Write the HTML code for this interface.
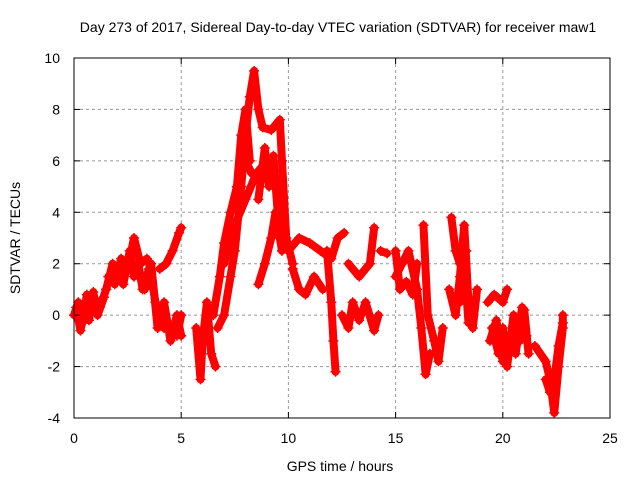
<!DOCTYPE html>
<html><head><meta charset="utf-8"><style>
body{margin:0;background:#fff;width:640px;height:480px;overflow:hidden}
text{font-family:"Liberation Sans",sans-serif;font-size:14px;fill:#000}
</style></head><body>
<svg id="chart" width="640" height="480" xmlns="http://www.w3.org/2000/svg">
<text x="338" y="32" text-anchor="middle">Day 273 of 2017, Sidereal Day-to-day VTEC variation (SDTVAR) for receiver maw1</text>
<g id="grid"></g>
<g id="series"></g>
<rect x="74" y="58" width="536" height="360" fill="none" stroke="#000" stroke-width="1"/>
<g id="ticks"></g>
<text x="340" y="471" text-anchor="middle">GPS time / hours</text>
<text x="20" y="238" text-anchor="middle" transform="rotate(-90 20 238)">SDTVAR / TECUs</text>
</svg>
<script>
const xTicks=[0,5,10,15,20,25];
const yTicks=[-4,-2,0,2,4,6,8,10];
const arcTimes=[
[0,0.2,0.4,0.6,0.8,1.0,1.2,1.5],
[0.1,0.3,0.5,0.7,0.9,1.1,1.4],
[1.5,1.8,2.0,2.3,2.6,2.8,3.0,3.2,3.5],
[1.6,1.9,2.2,2.5,2.8,3.1,3.4],
[3.5,3.8,4.0,4.2,4.5,4.8,5.0],
[3.3,3.6,3.9,4.2,4.5,4.8,5.0],
[4.0,4.3,4.6,4.9,5.0],
[5.7,5.9,6.0,6.2,6.4,6.6],
[6.5,6.8,7.0,7.3,7.6,8.0,8.3],
[6.7,7.0,7.3,7.5,7.8,8.0,8.2,8.4,8.6,8.8,9.2,9.6,9.7,9.9,10.2],
[7.6,7.8,8.0,8.2],
[7.0,7.5,8.0,8.5,9.0,9.3,9.6,9.8,10.0],
[8.6,8.9,9.1,9.3,9.5],
[8.6,8.9,9.2,9.4,9.7],
[10.0,10.5,11.0,11.5,12.0,12.3,12.6],
[10.2,10.5,10.8,11.2,11.6],
[11.8,12.0,12.1,12.2],
[12.5,12.8,13.0,13.3,13.6,14.0,14.2],
[12.8,13.3,13.8,14.0],
[14.3,14.6],
[15.0,15.3,15.6,16.0,16.2,16.4,16.6],
[15.0,15.2,15.5,15.8,16.0],
[16.3,16.5,16.8,17.0,17.2],
[17.5,17.8,18.0,18.2,18.4,18.6,18.8],
[17.6,17.8,18.0,18.3],
[18.0,18.2,18.4],
[19.5,19.8,20.0,20.2,20.5,20.8,21.0,21.2],
[19.4,19.7,20.0,20.3,20.6,20.9,21.1],
[19.3,19.6,20.0,20.2],
[21.5,22.0,22.2,22.4,22.6,22.8,22.8],
[22.0,22.2,22.4,22.6,22.8]
];
const arcValues=[
[0,0.5,-0.3,0.8,0.2,0.6,0.3,1.0],
[0.3,-0.6,0.2,-0.2,0.9,0.0,0.7],
[1.0,2.0,1.5,1.2,2.5,1.5,2.0,1.0,1.8],
[1.5,1.2,2.2,1.8,3.0,2.0,2.2],
[2.0,0.5,0,-0.5,-0.5,-0.8,0],
[1.0,2.0,-0.5,0.5,-1.0,0,-0.8],
[1.8,2.0,2.5,3.2,3.4],
[-0.5,-2.5,-1.0,0.5,-1.5,-2.0],
[0,1.5,2.8,4.0,5.0,6.0,5.5],
[-0.5,0,1.5,2.5,5.0,7.0,8.5,9.5,8.0,7.3,7.2,7.6,6.0,3.0,2.0],
[5.0,7.0,8.0,6.0],
[2.0,3.5,4.5,5.5,6.0,5.5,4.5,3.0,2.5],
[4.5,6.5,5.0,6.2,4.0],
[1.2,2.0,3.0,4.0,2.5],
[2.5,3.0,2.8,2.5,2.2,3.0,3.2],
[1.8,1.0,0.8,1.5,1.0],
[2.5,0.5,-1.0,-2.2],
[0,-0.5,0.5,-0.2,0.5,-0.6,0],
[2.0,1.5,2.0,3.4],
[2.5,2.4],
[1.5,2.0,2.5,1.0,-0.5,-2.3,-1.5],
[2.5,1.0,1.3,0.8,2.0],
[3.5,0,-1.0,-1.8,-0.5],
[1.0,0,1.5,3.5,0.5,-0.5,1.0],
[3.8,2.5,2.0,2.5],
[0.5,2.0,-0.3],
[-0.5,-1.5,-0.5,-2.0,0,-1.0,0.2,-1.5],
[-1.0,-0.2,-1.8,-0.8,-1.5,0.3,-0.8],
[0.5,0.8,0.5,1.0],
[-1.2,-1.8,-2.5,-3.8,-2.0,-0.5,0],
[-2.5,-3.0,-2.5,-1.2,-0.3]
];
const X0=74,X1=610,Y0=418,Y1=58;
const xs=t=>X0+(t-0)/(25-0)*(X1-X0);
const ys=v=>Y0-(v-(-4))/(10-(-4))*(Y0-Y1);
const NS="http://www.w3.org/2000/svg";
const grid=document.getElementById('grid'),ticks=document.getElementById('ticks'),ser=document.getElementById('series');
function mk(tag,attrs,parent){const e=document.createElementNS(NS,tag);for(const k in attrs)e.setAttribute(k,attrs[k]);parent.appendChild(e);return e;}
xTicks.forEach(t=>{const x=xs(t);
 if(t>0&&t<25){const g=mk('line',{x1:x,x2:x,y1:Y1,y2:Y0,stroke:'#999','stroke-dasharray':'3,3'},grid);
 
 }
 const a=mk('line',{x1:x,x2:x,y1:Y0,y2:Y0-6,stroke:'#000'},ticks);
 
 
 const b=mk('line',{x1:x,x2:x,y1:Y1,y2:Y1+6,stroke:'#000'},ticks);
 
 
 const l=mk('text',{x:x,y:443,'text-anchor':'middle'},ticks);l.textContent=t;
 
 
});
yTicks.forEach(v=>{const y=ys(v);
 if(v>-4&&v<10){const g=mk('line',{x1:X0,x2:X1,y1:y,y2:y,stroke:'#999','stroke-dasharray':'3,3'},grid);
 
 }
 const a=mk('line',{x1:X0,x2:X0+6,y1:y,y2:y,stroke:'#000'},ticks);
 
 
 const b=mk('line',{x1:X1,x2:X1-6,y1:y,y2:y,stroke:'#000'},ticks);
 
 
 const l=mk('text',{x:60,y:y+5,'text-anchor':'end'},ticks);l.textContent=v;
 
 
});
arcTimes.forEach((ts,i)=>{const vs=arcValues[i];
 const pts=ts.map((t,j)=>xs(t)+','+ys(vs[j])).join(' ');
 const p=mk('polyline',{points:pts,fill:'none',stroke:'#f00','stroke-width':8,'stroke-linejoin':'round','stroke-linecap':'round'},ser);
 
 
 ts.forEach((t,j)=>{const x=xs(t),y=ys(vs[j]);
  const m=mk('path',{d:`M${x-5},${y}H${x+5}M${x},${y-5}V${y+5}`,stroke:'#f00','stroke-width':1.5},ser);
  
  
 });
});
</script>
</body></html>
